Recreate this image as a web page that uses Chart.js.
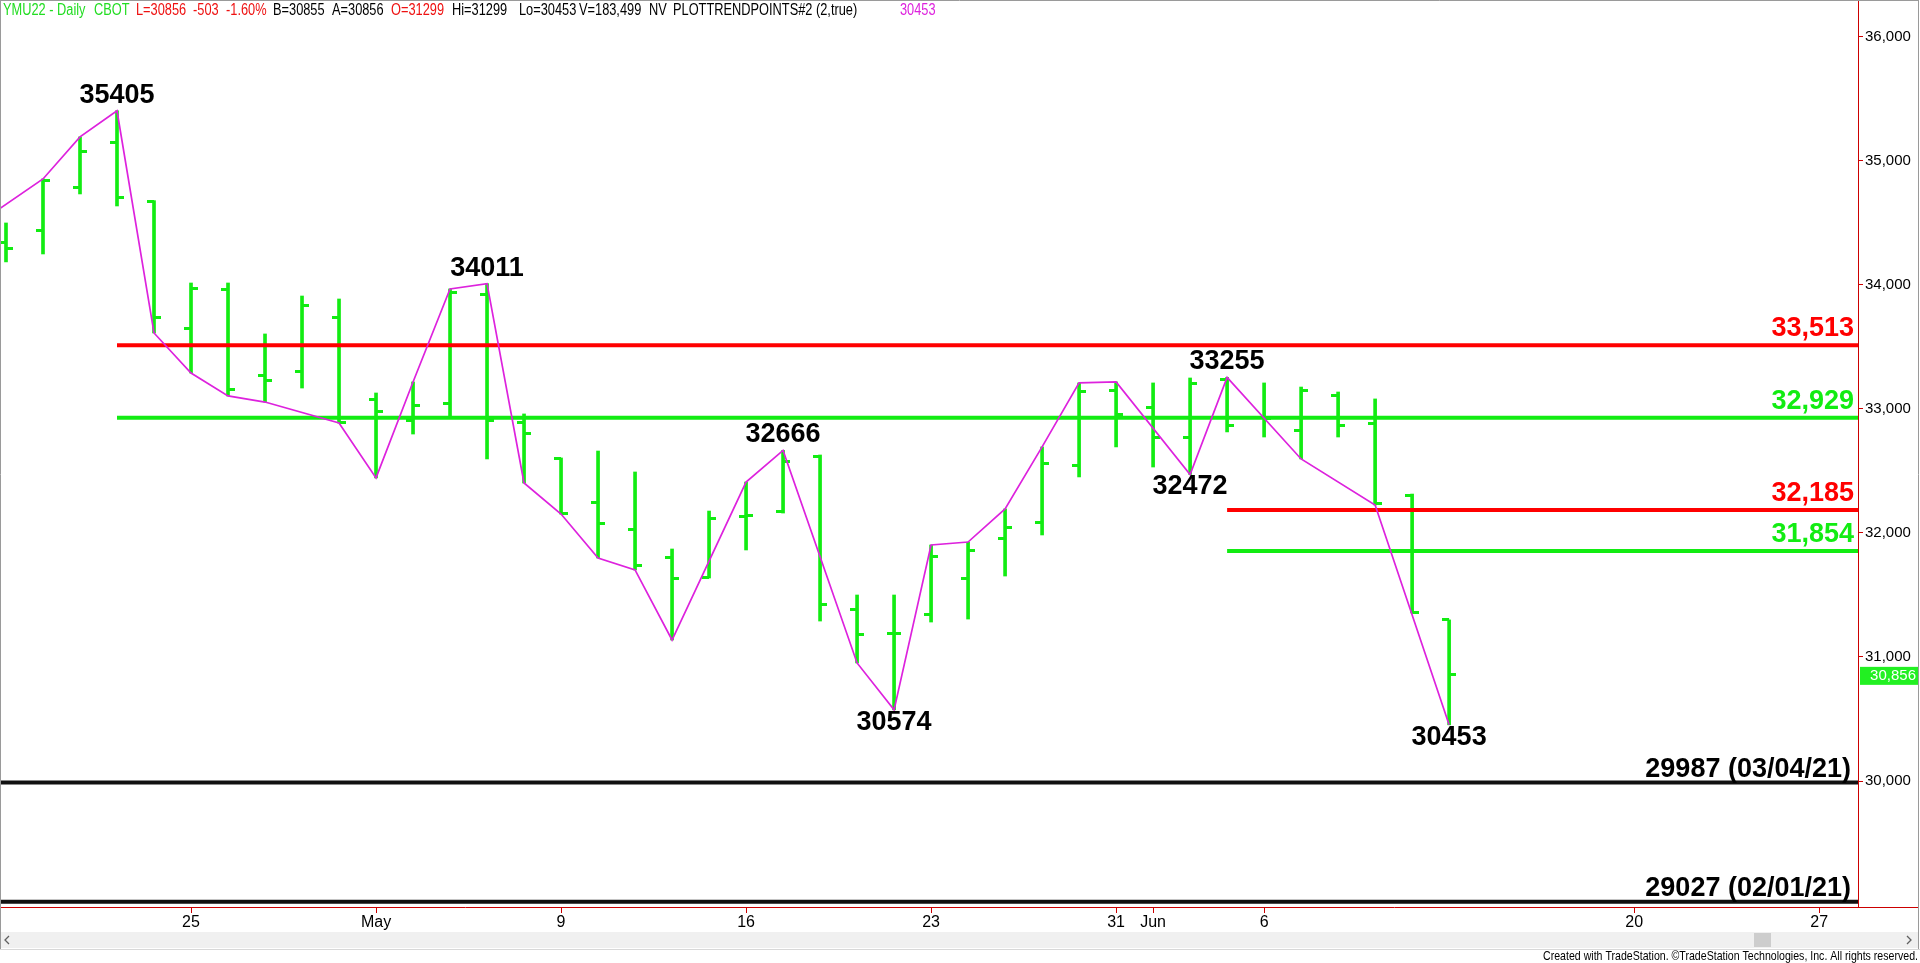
<!DOCTYPE html>
<html lang="en">
<head>
<meta charset="UTF-8">
<title>YMU22 - Daily</title>
<script src="https://cdn.jsdelivr.net/npm/chart.js"></script>
<style>
  html, body { margin: 0; padding: 0; background: #fff; overflow: hidden; }
  canvas { display: block; }
</style>
</head>
<body>
<canvas id="ymChart" width="1920" height="963"></canvas>
<script>
// daily bars, index 0 = Apr 18 2022 (trading days only)
const opens  = [34339, 34436, 34790, 35145, 34670, 33645, 33960, 33266, 33306, 33734,
                33073, 32911, 33048, 33927, 32895, 32600, 32242, 32032, 31806, 31640,
                32129, 32170, 32620, 31387, 31193, 31339, 31637, 31952, 32081, 32548,
                33153, 33008, 32766, 33240, 32935, 32823, 33105, 32879, 32300, 31299];
const highs  = [34500, 34855, 35194, 35405, 34680, 34016, 34016, 33605, 33911, 33887,
                33129, 33218, 33968, 34011, 32960, 32605, 32661, 32492, 31871, 32177,
                32411, 32666, 32629, 31500, 31500, 31903, 31927, 32194, 32694, 33210,
                33218, 33210, 33250, 33255, 33210, 33177, 33137, 33081, 32314, 31299];
const lows   = [34186, 34250, 34734, 34637, 33613, 33290, 33105, 33056, 33169, 32887,
                32444, 32798, 32935, 32597, 32403, 32153, 31798, 31702, 31137, 31637,
                31863, 32161, 31290, 30952, 30574, 31282, 31306, 31653, 31984, 32452,
                32694, 32532, 32472, 32815, 32774, 32597, 32774, 32226, 31355, 30453];
const closes = [34298, 34839, 35073, 34702, 33734, 33968, 33161, 33226, 33831, 32890,
                32976, 33032, 33940, 32911, 32806, 32160, 32073, 31734, 31637, 32113,
                32145, 32573, 31427, 31185, 31190, 31814, 31855, 32048, 32564, 33137,
                32952, 32774, 33202, 32863, 32920, 33145, 32863, 32234, 31360, 30856];

// date ticks on the bar index axis
const dateTickIdx    = [5, 10, 15, 20, 25, 30, 31, 34, 44, 49];
const dateTickLabels = ['25', 'May', '9', '16', '23', '31', 'Jun', '6', '20', '27'];

const priceTicks = [30000, 31000, 32000, 33000, 34000, 35000, 36000];

// PLOTTRENDPOINTS line
const trendIdx = [-1, 1, 2, 3, 4, 5, 6, 7, 9, 10, 11, 12, 13, 14, 15, 16, 17, 18, 20, 21,
                  23, 24, 25, 26, 27, 28, 29, 30, 32, 33, 35, 37, 39];
const trendVal = [34447, 34855, 35194, 35405, 33613, 33290, 33105, 33056, 32887, 32444,
                  33218, 33968, 34011, 32403, 32153, 31798, 31702, 31137, 32411, 32666,
                  30952, 30574, 31903, 31927, 32194, 32694, 33210, 33218, 32472, 33255,
                  32597, 32226, 30453];

// labelled swing points
const pivotIdx    = [3, 13, 21, 33, 24, 32, 39];
const pivotVal    = [35405, 34011, 32666, 33255, 30574, 32472, 30453];
const pivotIsHigh = [true, true, true, true, false, false, false];

// levels
const levelVal  = [33513, 32929, 32185, 31854];
const levelFrom = [3, 3, 33, 33];
const oldLowVal  = [29987, 29027];
const oldLowDate = ['03/04/21', '02/01/21'];

const lastClose = 30856;

const X_MIN = -0.135, X_MAX = 50.05;
const Y_MIN = 28984, Y_MAX = 36298;

const GREEN = '#12ec12';
const RED = '#ff0000';
const MAGENTA = '#dd22dd';
const AXIS_RED = '#cc0000';
const FONT = 'Arial, "Liberation Sans", sans-serif';
const levelColor = [RED, GREEN, RED, GREEN];

// open tick = left half, close tick = right half
function tickImage(left) {
    const c = document.createElement('canvas');
    c.width = 14;
    c.height = 3;
    const g = c.getContext('2d');
    g.fillStyle = GREEN;
    g.fillRect(left ? 0 : 7, 0, 7, 3);
    return c;
}

const datasets = [];

datasets.push({
    type: 'bar',
    data: highs.map((h, i) => ({ x: i, y: [lows[i], h] })),
    backgroundColor: GREEN,
    borderWidth: 0,
    barThickness: 3,
    order: 6
});
datasets.push({
    type: 'line',
    data: opens.map((o, i) => ({ x: i, y: o })),
    showLine: false,
    pointStyle: tickImage(true),
    pointRadius: 3,
    order: 5
});
datasets.push({
    type: 'line',
    data: closes.map((c, i) => ({ x: i, y: c })),
    showLine: false,
    pointStyle: tickImage(false),
    pointRadius: 3,
    order: 5
});

levelVal.forEach((v, k) => {
    datasets.push({
        type: 'line',
        data: [{ x: levelFrom[k], y: v }, { x: X_MAX, y: v }],
        borderColor: levelColor[k],
        borderWidth: 4,
        pointRadius: 0,
        order: 3
    });
});
oldLowVal.forEach(v => {
    datasets.push({
        type: 'line',
        data: [{ x: X_MIN, y: v }, { x: X_MAX, y: v }],
        borderColor: '#111111',
        borderWidth: 4,
        pointRadius: 0,
        order: 3
    });
});

datasets.push({
    type: 'line',
    data: trendIdx.map((t, k) => ({ x: t, y: trendVal[k] })),
    borderColor: MAGENTA,
    borderWidth: 1.7,
    pointRadius: 0,
    tension: 0,
    order: 1
});

const titleParts = [
    ['YMU22 - Daily', 3, '#22dd22'], ['CBOT', 94, '#22dd22'],
    ['L=30856', 136, '#ee1111'], ['-503', 193, '#ee1111'], ['-1.60%', 226, '#ee1111'],
    ['B=30855', 273, '#000'], ['A=30856', 332, '#000'], ['O=31299', 391, '#ee1111'],
    ['Hi=31299', 452, '#000'], ['Lo=30453', 519, '#000'], ['V=183,499', 579, '#000'],
    ['NV', 649, '#000'], ['PLOTTRENDPOINTS#2 (2,true)', 673, '#000'], ['30453', 900, MAGENTA]
];

const decorPlugin = {
    id: 'decor',
    afterDatasetsDraw(chart) {
        const { ctx, chartArea } = chart;
        const x = chart.scales.x, y = chart.scales.y;
        ctx.save();
        ctx.font = 'bold 27px ' + FONT;
        ctx.textBaseline = 'alphabetic';

        // swing point values
        ctx.fillStyle = '#000';
        ctx.textAlign = 'center';
        pivotIdx.forEach((idx, k) => {
            const px = x.getPixelForValue(idx);
            const py = y.getPixelForValue(pivotVal[k]);
            ctx.fillText(String(pivotVal[k]), px, pivotIsHigh[k] ? py - 8 : py + 20);
        });

        // level values
        ctx.textAlign = 'right';
        levelVal.forEach((v, k) => {
            ctx.fillStyle = levelColor[k];
            ctx.fillText(v.toLocaleString('en-US'), chartArea.right - 4, y.getPixelForValue(v) - 9);
        });
        ctx.fillStyle = '#000';
        oldLowVal.forEach((v, k) => {
            ctx.fillText(v + ' (' + oldLowDate[k] + ')', chartArea.right - 7, y.getPixelForValue(v) - 6);
        });
        ctx.restore();
    },
    afterDraw(chart) {
        const { ctx, chartArea, width, height } = chart;
        const y = chart.scales.y;
        ctx.save();

        // title line
        ctx.font = '16px ' + FONT;
        ctx.textBaseline = 'middle';
        ctx.textAlign = 'left';
        titleParts.forEach(([txt, tx, col]) => {
            ctx.save();
            ctx.translate(tx, 11);
            ctx.scale(0.8, 1);
            ctx.fillStyle = col;
            ctx.fillText(txt, 0, 0);
            ctx.restore();
        });

        // x axis line continues under the price scale
        ctx.strokeStyle = AXIS_RED;
        ctx.lineWidth = 1;
        ctx.beginPath();
        ctx.moveTo(chartArea.right, chartArea.bottom + 0.5);
        ctx.lineTo(width - 2, chartArea.bottom + 0.5);
        ctx.stroke();

        // last price box
        const py = y.getPixelForValue(lastClose);
        ctx.fillStyle = '#22f022';
        ctx.fillRect(chartArea.right + 2, py - 8, width - chartArea.right - 4, 18);
        ctx.fillStyle = '#fff';
        ctx.font = '15px ' + FONT;
        ctx.textAlign = 'right';
        ctx.fillText(lastClose.toLocaleString('en-US'), width - 4, py + 1);

        // scroll bar
        ctx.fillStyle = '#f0f0f0';
        ctx.fillRect(1, 932, width - 3, 16);
        ctx.fillStyle = '#cdcdcd';
        ctx.fillRect(1754, 933, 17, 14);
        ctx.strokeStyle = '#606060';
        ctx.lineWidth = 1.3;
        ctx.beginPath();
        ctx.moveTo(9, 936); ctx.lineTo(5, 940); ctx.lineTo(9, 944);
        ctx.moveTo(1907, 936); ctx.lineTo(1911, 940); ctx.lineTo(1907, 944);
        ctx.stroke();

        // frame
        ctx.strokeStyle = '#9a9a9a';
        ctx.lineWidth = 1;
        ctx.beginPath();
        ctx.moveTo(0.5, 0); ctx.lineTo(0.5, 949);
        ctx.moveTo(0, 0.5); ctx.lineTo(width - 1, 0.5);
        ctx.moveTo(width - 1.5, 0); ctx.lineTo(width - 1.5, 949);
        ctx.stroke();
        ctx.strokeStyle = '#d8d8d8';
        ctx.beginPath();
        ctx.moveTo(0, 949.5); ctx.lineTo(width, 949.5);
        ctx.stroke();

        // footer
        const foot = 'Created with TradeStation. \u00A9TradeStation Technologies, Inc. All rights reserved.';
        ctx.font = '13px ' + FONT;
        ctx.fillStyle = '#000';
        ctx.textAlign = 'left';
        ctx.textBaseline = 'alphabetic';
        const sx = 375 / ctx.measureText(foot).width;
        ctx.translate(width - 2 - 375, height - 3);
        ctx.scale(sx, 1);
        ctx.fillText(foot, 0, 0);
        ctx.restore();
    }
};

const ymChart = new Chart(document.getElementById('ymChart'), {
    type: 'line',
    data: { datasets: datasets },
    options: {
        responsive: false,
        animation: false,
        events: [],
        layout: { autoPadding: false, padding: { left: 1, top: 0, right: 0, bottom: 0 } },
        plugins: { legend: { display: false }, tooltip: { enabled: false } },
        scales: {
            x: {
                type: 'linear',
                min: X_MIN,
                max: X_MAX,
                offset: false,
                afterBuildTicks: axis => { axis.ticks = dateTickIdx.map(v => ({ value: v })); },
                afterFit: axis => {
                    axis.height = 56;
                    axis.paddingLeft = 0;
                    axis.paddingRight = 0;
                },
                grid: { offset: false, drawOnChartArea: false, drawTicks: true, tickLength: 6, color: AXIS_RED },
                border: { color: AXIS_RED },
                ticks: {
                    autoSkip: false,
                    maxRotation: 0,
                    padding: 0,
                    color: '#000',
                    font: { family: FONT, size: 16 },
                    callback: (v, i) => dateTickLabels[i]
                }
            },
            y: {
                type: 'linear',
                position: 'right',
                min: Y_MIN,
                max: Y_MAX,
                afterBuildTicks: axis => { axis.ticks = priceTicks.map(v => ({ value: v })); },
                afterFit: axis => {
                    axis.width = 62;
                    axis.paddingTop = 0;
                    axis.paddingBottom = 0;
                },
                grid: { drawOnChartArea: false, drawTicks: true, tickLength: 5, color: AXIS_RED },
                border: { color: AXIS_RED },
                ticks: {
                    padding: 2,
                    color: '#000',
                    font: { family: FONT, size: 15 },
                    callback: v => v.toLocaleString('en-US')
                }
            }
        }
    },
    plugins: [decorPlugin]
});
</script>
</body>
</html>
